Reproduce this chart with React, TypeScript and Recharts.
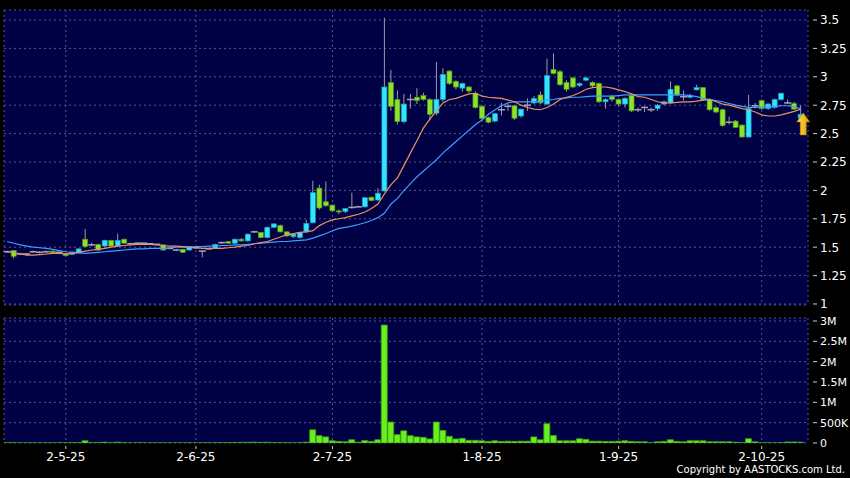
import React from "react";
import {
  ComposedChart,
  BarChart,
  Bar,
  Line,
  XAxis,
  YAxis,
  CartesianGrid,
  ReferenceDot,
} from "recharts";

// daily OHLC (123 sessions)
const opens = [
  1.46, 1.47, 1.44, 1.44, 1.46, 1.455, 1.46, 1.465, 1.455, 1.445,
  1.437, 1.45, 1.57, 1.52, 1.525, 1.51, 1.56, 1.51, 1.57, 1.53,
  1.535, 1.535, 1.53, 1.525, 1.52, 1.49, 1.475, 1.48, 1.475, 1.495,
  1.465, 1.485, 1.49, 1.54, 1.55, 1.535, 1.57, 1.555, 1.635, 1.63,
  1.585, 1.675, 1.69, 1.635, 1.595, 1.585, 1.635, 1.715, 2.02, 1.9,
  1.87, 1.82, 1.815, 1.85, 1.855, 1.855, 1.94, 1.915, 1.995, 2.95,
  2.8, 2.605, 2.8, 2.82, 2.835, 2.8, 2.68, 2.8, 3.05, 2.96,
  2.9, 2.91, 2.855, 2.74, 2.64, 2.61, 2.71, 2.74, 2.745, 2.655,
  2.75, 2.77, 2.84, 2.76, 3.065, 3.045, 2.95, 2.99, 2.925, 2.97,
  2.95, 2.94, 2.78, 2.83, 2.8, 2.76, 2.835, 2.71, 2.73, 2.71,
  2.72, 2.76, 2.77, 2.92, 2.825, 2.82, 2.885, 2.905, 2.8, 2.73,
  2.71, 2.6, 2.61, 2.575, 2.47, 2.745, 2.79, 2.72, 2.73, 2.8,
  2.77, 2.765, 2.635,
];
const highs = [
  1.47, 1.475, 1.45, 1.45, 1.47, 1.465, 1.47, 1.47, 1.46, 1.45,
  1.46, 1.49, 1.66, 1.54, 1.53, 1.565, 1.565, 1.62, 1.575, 1.54,
  1.545, 1.54, 1.535, 1.53, 1.525, 1.5, 1.485, 1.485, 1.51, 1.505,
  1.47, 1.49, 1.53, 1.55, 1.555, 1.575, 1.58, 1.62, 1.645, 1.635,
  1.68, 1.71, 1.7, 1.64, 1.62, 1.635, 1.74, 2.085, 2.05, 2.08,
  1.875, 1.83, 1.845, 1.98, 1.865, 1.94, 1.945, 2.02, 3.52, 3.06,
  2.88, 2.85, 2.85, 2.9, 2.86, 2.81, 3.13, 3.075, 3.06, 2.97,
  2.95, 2.92, 2.87, 2.75, 2.65, 2.68, 2.77, 2.76, 2.75, 2.72,
  2.81, 2.83, 2.87, 3.16, 3.205, 3.06, 2.97, 3.0, 2.95, 3.0,
  2.96, 2.95, 2.81, 2.84, 2.81, 2.82, 2.84, 2.73, 2.74, 2.73,
  2.76, 2.79, 2.96, 2.93, 2.88, 2.85, 2.93, 2.91, 2.81, 2.74,
  2.72, 2.65, 2.62, 2.58, 2.84, 2.77, 2.8, 2.77, 2.81, 2.86,
  2.8, 2.78, 2.75,
];
const lows = [
  1.45, 1.4, 1.43, 1.43, 1.45, 1.445, 1.45, 1.445, 1.45, 1.42,
  1.43, 1.445, 1.5, 1.51, 1.465, 1.505, 1.505, 1.505, 1.53, 1.525,
  1.525, 1.53, 1.525, 1.52, 1.47, 1.48, 1.465, 1.45, 1.47, 1.485,
  1.41, 1.48, 1.485, 1.53, 1.53, 1.53, 1.55, 1.55, 1.625, 1.58,
  1.58, 1.67, 1.63, 1.59, 1.58, 1.575, 1.63, 1.71, 1.83, 1.855,
  1.81, 1.79, 1.8, 1.84, 1.85, 1.85, 1.905, 1.91, 1.99, 2.7,
  2.58, 2.59, 2.72, 2.76, 2.79, 2.62, 2.66, 2.78, 2.93, 2.89,
  2.87, 2.86, 2.72, 2.62, 2.59, 2.6, 2.66, 2.7, 2.62, 2.64,
  2.7, 2.76, 2.76, 2.75, 3.02, 2.92, 2.87, 2.9, 2.91, 2.96,
  2.91, 2.77, 2.72, 2.78, 2.74, 2.73, 2.69, 2.69, 2.69, 2.69,
  2.7, 2.75, 2.76, 2.83, 2.79, 2.81, 2.88, 2.79, 2.7, 2.68,
  2.56, 2.58, 2.55, 2.465, 2.465, 2.72, 2.71, 2.71, 2.72, 2.79,
  2.76, 2.71, 2.63,
];
const closes = [
  1.46, 1.42, 1.44, 1.44, 1.46, 1.455, 1.46, 1.45, 1.455, 1.425,
  1.457, 1.485, 1.505, 1.52, 1.475, 1.56, 1.51, 1.56, 1.535, 1.53,
  1.535, 1.535, 1.53, 1.525, 1.475, 1.49, 1.475, 1.455, 1.505, 1.495,
  1.465, 1.485, 1.525, 1.54, 1.535, 1.57, 1.555, 1.615, 1.635, 1.585,
  1.675, 1.705, 1.635, 1.6, 1.615, 1.63, 1.71, 1.98, 1.845, 1.865,
  1.82, 1.81, 1.84, 1.85, 1.855, 1.935, 1.91, 1.975, 2.91, 2.74,
  2.605, 2.76, 2.8, 2.79, 2.8, 2.67, 2.8, 3.02, 2.94, 2.91,
  2.94, 2.875, 2.73, 2.635, 2.6, 2.675, 2.71, 2.74, 2.635, 2.715,
  2.75, 2.81, 2.77, 3.01, 3.03, 2.93, 2.89, 2.91, 2.94, 2.99,
  2.92, 2.78, 2.8, 2.8, 2.76, 2.81, 2.7, 2.71, 2.73, 2.71,
  2.75, 2.78, 2.89, 2.84, 2.825, 2.835, 2.905, 2.795, 2.71, 2.69,
  2.57, 2.6, 2.555, 2.47, 2.72, 2.745, 2.72, 2.76, 2.8, 2.855,
  2.77, 2.715, 2.67,
];
// turnover in thousands of shares
const volumes = [
  5, 8, 3, 4, 6, 3, 5, 4, 3, 6,
  8, 10, 55, 8, 10, 20, 10, 20, 8, 3,
  4, 3, 2, 3, 5, 3, 2, 3, 4, 3,
  5, 4, 6, 8, 10, 12, 15, 18, 20, 15,
  18, 10, 8, 6, 5, 8, 20, 325, 180, 150,
  55, 40, 30, 80, 20, 60, 40, 80, 2900, 515,
  205, 300, 180, 150, 140, 100, 515, 310, 165, 100,
  115, 65, 65, 55, 40, 55, 40, 45, 40, 45,
  45, 150, 80, 475, 185, 55, 55, 55, 105, 90,
  45, 45, 40, 40, 45, 55, 40, 30, 30, 10,
  30, 40, 80, 40, 30, 55, 55, 55, 30, 30,
  30, 30, 20, 10, 105, 30, 5, 5, 5, 10,
  25, 25, 20,
];
// moving averages as drawn (orange = short, blue = long)
const maShort = [
  1.46, 1.455, 1.44, 1.43, 1.43, 1.435, 1.44, 1.445, 1.445, 1.44,
  1.445, 1.455, 1.465, 1.475, 1.48, 1.49, 1.5, 1.51, 1.515, 1.52,
  1.525, 1.525, 1.525, 1.52, 1.515, 1.51, 1.51, 1.505, 1.5, 1.495,
  1.49, 1.49, 1.49, 1.49, 1.495, 1.5, 1.51, 1.515, 1.53, 1.54,
  1.55, 1.57, 1.59, 1.61, 1.62, 1.63, 1.635, 1.645, 1.69, 1.72,
  1.74, 1.75, 1.76, 1.775, 1.79, 1.81, 1.84, 1.88, 1.97, 2.05,
  2.11, 2.22, 2.33, 2.44, 2.55, 2.63, 2.7, 2.77, 2.8, 2.81,
  2.83, 2.85, 2.855, 2.83, 2.82, 2.815, 2.81, 2.795, 2.78, 2.75,
  2.73, 2.715, 2.71, 2.73, 2.76, 2.8, 2.82, 2.835, 2.86, 2.89,
  2.905, 2.91, 2.91, 2.9, 2.885, 2.87, 2.85, 2.825, 2.82, 2.8,
  2.78, 2.77, 2.77, 2.775, 2.78, 2.78, 2.785, 2.795, 2.8, 2.78,
  2.76, 2.75, 2.735, 2.72, 2.71, 2.69, 2.665, 2.655, 2.655, 2.665,
  2.68, 2.695, 2.715,
];
const maLong = [
  1.55, 1.535, 1.52, 1.51, 1.5, 1.495, 1.49, 1.48, 1.47, 1.46,
  1.455, 1.45, 1.445, 1.45, 1.455, 1.46, 1.465, 1.47, 1.475, 1.48,
  1.485, 1.485, 1.49, 1.49, 1.49, 1.495, 1.5, 1.5, 1.5, 1.505,
  1.505, 1.51, 1.51, 1.515, 1.515, 1.52, 1.52, 1.525, 1.53, 1.535,
  1.54, 1.545, 1.55, 1.55, 1.555, 1.56, 1.565, 1.58, 1.6, 1.62,
  1.645, 1.665, 1.675, 1.685, 1.7, 1.715, 1.735, 1.76, 1.8, 1.88,
  1.93, 2.0, 2.06, 2.12, 2.17, 2.22, 2.27, 2.33, 2.38, 2.43,
  2.48, 2.53, 2.58, 2.62, 2.67, 2.71, 2.745, 2.77, 2.78, 2.78,
  2.78, 2.78, 2.785, 2.795, 2.8, 2.81, 2.815, 2.82, 2.82, 2.825,
  2.83, 2.83, 2.83, 2.83, 2.835, 2.84, 2.84, 2.84, 2.84, 2.84,
  2.84, 2.84, 2.84, 2.84, 2.84, 2.835, 2.825, 2.81, 2.8, 2.79,
  2.78, 2.765, 2.75, 2.74, 2.73, 2.73, 2.735, 2.735, 2.74, 2.745,
  2.745, 2.735, 2.72,
];

const dateTicks = [9, 29, 50, 73, 94, 116];
const dateLabels = ["2-5-25", "2-6-25", "2-7-25", "1-8-25", "1-9-25", "2-10-25"];
const priceTicks = [1, 1.25, 1.5, 1.75, 2, 2.25, 2.5, 2.75, 3, 3.25, 3.5];
const volumeTicks = [0, 500, 1000, 1500, 2000, 2500, 3000];
const volumeLabels = ["0", "500K", "1M", "1.5M", "2M", "2.5M", "3M"];
const markerIndex = 122;
const markerPrice = 2.585;

const rows = opens.map((o, i) => ({
  i,
  o,
  h: highs[i],
  l: lows[i],
  c: closes[i],
  v: volumes[i],
  maShort: maShort[i],
  maLong: maLong[i],
}));

const FONT = "DejaVu Sans";
const NAVY = "#000044";
const GRID = "#55558f";
const UP = "#33e4ff";
const UP_EDGE = "#1a9fc0";
const DOWN = "#8ce22c";
const DOWN_EDGE = "#4f9a14";
const FLAT = "#a5a5b5";
const WICK = "#9c9cae";

function Candle(props: any) {
  const { x, y, width, height, payload } = props;
  const { o, h, l, c } = payload;
  const cx = x + width / 2;
  const k = height / (h - l);
  const py = (v: number) => y + (h - v) * k;
  const top = py(Math.max(o, c));
  const bot = py(Math.min(o, c));
  const bw = 5;
  let body;
  if (c > o) {
    body = (
      <rect x={cx - bw / 2} y={top} width={bw} height={Math.max(bot - top, 1)}
        fill={UP} stroke={UP_EDGE} strokeWidth={0.7} />
    );
  } else if (c < o) {
    body = (
      <rect x={cx - bw / 2} y={top} width={bw} height={Math.max(bot - top, 1)}
        fill={DOWN} stroke={DOWN_EDGE} strokeWidth={0.7} />
    );
  } else {
    body = (
      <line x1={cx - 3.5} x2={cx + 3.5} y1={top} y2={top} stroke={FLAT} strokeWidth={1.5} />
    );
  }
  return (
    <g>
      <line x1={cx} x2={cx} y1={y} y2={y + height} stroke={WICK} strokeWidth={1} />
      {body}
    </g>
  );
}

function PriceTick(props: any) {
  const { x, y, payload } = props;
  return (
    <g>
      <line x1={x + 5} x2={x + 9} y1={y} y2={y} stroke="#cccccc" />
      <text x={x + 12} y={y} dy="0.36em" fill="#ffffff" fontSize={12} fontFamily={FONT}>
        {String(payload.value)}
      </text>
    </g>
  );
}

function VolumeTick(props: any) {
  const { x, y, payload } = props;
  const label = volumeLabels[volumeTicks.indexOf(payload.value)];
  return (
    <g>
      <line x1={x + 5} x2={x + 9} y1={y} y2={y} stroke="#cccccc" />
      <text x={x + 12} y={y} dy="0.36em" fill="#ffffff" fontSize={11} fontFamily={FONT}>
        {label}
      </text>
    </g>
  );
}

function DateTick(props: any) {
  const { x, y, payload } = props;
  const label = dateLabels[dateTicks.indexOf(payload.value)];
  return (
    <g>
      <line x1={x} x2={x} y1={y + 3} y2={y + 6} stroke="#cccccc" />
      <text x={x} y={y + 18} textAnchor="middle" fill="#ffffff" fontSize={12} fontFamily={FONT}>
        {label}
      </text>
    </g>
  );
}

function Arrow(props: any) {
  const { cx, cy } = props;
  const ax = cx + 2.5;
  const pts = [
    [ax, cy - 11],
    [ax + 6.5, cy - 2],
    [ax + 3, cy - 2],
    [ax + 3, cy + 11],
    [ax - 3, cy + 11],
    [ax - 3, cy - 2],
    [ax - 6.5, cy - 2],
  ]
    .map((p) => p.join(","))
    .join(" ");
  return (
    <g>
      <defs>
        <linearGradient id="arrowFill" x1="0" y1="0" x2="1" y2="0">
          <stop offset="0%" stopColor="#ffe14a" />
          <stop offset="100%" stopColor="#e59a00" />
        </linearGradient>
      </defs>
      <polygon points={pts} fill="url(#arrowFill)" stroke="#b87800" strokeWidth={0.6} />
    </g>
  );
}

export default function App() {
  return (
    <div style={{ position: "absolute", left: 0, top: 0, width: 850, height: 478, background: "#000" }}>
      <div style={{ position: "absolute", left: 0, top: 310 }}>
        <BarChart width={850} height={168} data={rows}
          margin={{ top: 8, right: 0, bottom: 0, left: 4 }}>
          <CartesianGrid stroke={GRID} strokeDasharray="2 3" fill={NAVY} fillOpacity={1} />
          <XAxis dataKey="i" type="category" ticks={dateTicks} interval={0} height={35}
            padding={{ left: 0, right: 4 }} axisLine={false} tickLine={false}
            tickSize={0} tickMargin={0} tick={<DateTick />} />
          <YAxis orientation="right" width={42} domain={[0, 3073.6]} allowDataOverflow
            type="number" ticks={volumeTicks} interval={0} axisLine={false} tickLine={false}
            tickSize={0} tickMargin={0} tick={<VolumeTick />} />
          <Bar dataKey="v" fill="#66f01e" stroke="#3f9f12" strokeWidth={0.8} barSize={6}
            isAnimationActive={false} />
        </BarChart>
      </div>
      <div style={{ position: "absolute", left: 0, top: 0 }}>
        <ComposedChart width={850} height={313} data={rows}
          margin={{ top: 10, right: 0, bottom: 8, left: 4 }}>
          <CartesianGrid stroke={GRID} strokeDasharray="2 3" fill={NAVY} fillOpacity={1} />
          <XAxis dataKey="i" type="category" hide ticks={dateTicks} interval={0}
            padding={{ left: 0, right: 4 }} />
          <YAxis orientation="right" width={42} domain={[0.991, 3.588]} allowDataOverflow
            type="number" ticks={priceTicks} interval={0} axisLine={false} tickLine={false}
            tickSize={0} tickMargin={0} tick={<PriceTick />} />
          <Bar dataKey={(d: any) => [d.l, d.h]} shape={Candle} isAnimationActive={false} />
          <Line type="linear" dataKey="maLong" stroke="#3f9dff" strokeWidth={1.2} dot={false}
            isAnimationActive={false} />
          <Line type="linear" dataKey="maShort" stroke="#ec9060" strokeWidth={1.2} dot={false}
            isAnimationActive={false} />
          <ReferenceDot x={markerIndex} y={markerPrice} shape={Arrow} />
        </ComposedChart>
      </div>
      <div style={{
        position: "absolute", right: 5, top: 464, color: "#ffffff",
        fontFamily: FONT, fontSize: 10, lineHeight: "12px", whiteSpace: "nowrap",
      }}>
        Copyright by AASTOCKS.com Ltd.
      </div>
    </div>
  );
}
